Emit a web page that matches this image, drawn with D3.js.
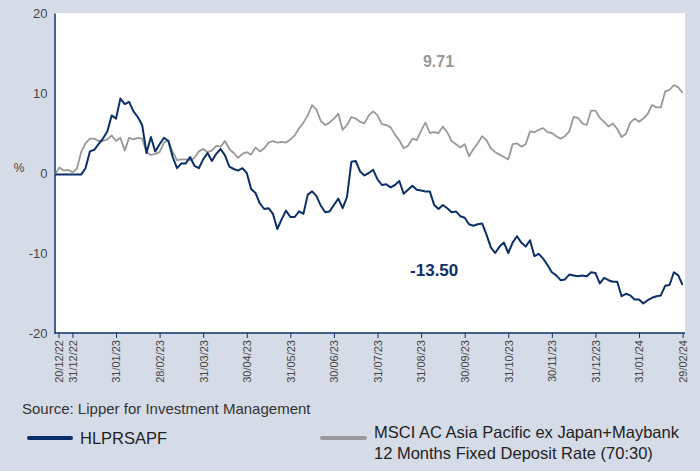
<!DOCTYPE html>
<html>
<head>
<meta charset="utf-8">
<script src="https://cdn.jsdelivr.net/npm/d3@7"></script>
<style>
  body { margin: 0; background: #d6dce7; }
  text { font-family: "Liberation Sans Narrow", "Arial Narrow", "Liberation Sans", sans-serif; }
</style>
</head>
<body>
<svg id="chart" width="700" height="471"></svg>
<script>
// month-end ticks (position = index in the series, 10 points per month)
var tickLabels = ["20/12/22", "31/12/22", "31/01/23", "28/02/23", "31/03/23", "30/04/23", "31/05/23",
                  "30/06/23", "31/07/23", "31/08/23", "30/09/23", "31/10/23", "30/11/23", "31/12/23",
                  "31/01/24", "29/02/24"];
var tickIndex = [0.8, 4, 14, 24, 34, 44, 54, 64, 74, 84, 94, 104, 114, 124, 134, 144];

var yTicks = [20, 10, 0, -10, -20];

// cumulative return, %
var fund = [
  -0.2, -0.2, -0.2, -0.2, -0.2, -0.2, -0.2, 0.6, 2.7, 2.9,
  3.6, 4.3, 5.2, 7.2, 6.8, 9.3, 8.6, 8.9, 7.7, 7.0,
  6.0, 2.5, 4.5, 2.7, 3.6, 4.4, 4.0, 2.0, 0.6, 1.2,
  1.2, 2.0, 0.9, 0.6, 1.7, 2.5, 1.5, 2.4, 3.0, 2.2,
  0.8, 0.5, 0.3, 0.6, 0.0, -2.0, -2.5, -3.8, -4.5, -4.4,
  -5.1, -7.0, -5.8, -4.7, -5.5, -5.5, -4.8, -5.1, -2.7, -2.3,
  -2.9, -4.1, -4.9, -4.8, -4.0, -3.2, -4.4, -3.0, 1.4, 1.5,
  0.2, -0.3, 0.0, 0.4, -0.8, -1.5, -1.4, -1.8, -1.5, -1.0,
  -2.6, -2.1, -1.6, -2.1, -2.2, -2.3, -2.3, -4.0, -4.5, -4.0,
  -4.4, -4.9, -4.8, -5.4, -5.6, -6.4, -6.6, -6.4, -6.3, -7.7,
  -9.3, -10.0, -9.2, -8.7, -10.0, -8.7, -7.9, -8.7, -9.2, -8.4,
  -10.4, -10.1, -10.7, -11.5, -12.4, -12.8, -13.4, -13.3, -12.7, -12.8,
  -12.9, -12.8, -12.9, -12.4, -12.5, -13.8, -13.1, -13.4, -13.6, -13.6,
  -15.4, -15.1, -15.3, -15.8, -15.8, -16.3, -15.9, -15.6, -15.4, -15.3,
  -14.1, -14.0, -12.4, -12.8, -14.0
];
var bench = [
  -0.2, 0.7, 0.3, 0.4, 0.1, 0.5, 2.6, 3.7, 4.3, 4.3,
  4.0, 4.0, 4.2, 4.7, 4.0, 4.4, 2.8, 4.4, 4.2, 4.4,
  4.3, 2.6, 2.25, 2.4, 2.6, 3.8, 4.1, 2.6, 1.6, 1.7,
  1.7, 1.6, 1.9, 2.7, 3.0, 2.6, 2.8, 3.4, 3.3, 4.0,
  3.0, 2.5, 1.9, 2.4, 2.6, 2.3, 3.2, 2.7, 3.1, 3.8,
  4.0, 3.8, 3.9, 3.8, 4.2, 4.7, 5.6, 6.3, 7.2, 8.5,
  7.9, 6.5, 6.0, 6.3, 6.8, 7.4, 5.4, 6.0, 7.0, 6.8,
  6.4, 6.2, 7.2, 7.7, 7.2, 6.1, 6.0, 5.7, 4.8, 4.1,
  3.1, 3.4, 4.3, 4.1, 5.3, 6.3, 5.0, 5.1, 5.0, 5.8,
  5.1, 4.0, 3.6, 3.2, 3.6, 2.1, 3.0, 3.7, 4.6, 4.1,
  3.1, 2.6, 2.3, 2.0, 1.7, 3.6, 3.7, 3.3, 3.6, 5.2,
  5.1, 5.4, 5.6, 5.1, 5.0, 4.6, 4.3, 4.6, 5.2, 7.0,
  6.9, 6.2, 6.0, 7.8, 7.8, 6.9, 6.4, 5.8, 6.2, 5.5,
  4.5, 4.9, 6.3, 6.8, 6.4, 6.8, 7.4, 8.5, 8.2, 8.2,
  10.2, 10.4, 11.0, 10.7, 10.0
];

var fundName = "HLPRSAPF";
var benchName = ["MSCI AC Asia Pacific ex Japan+Maybank", "12 Months Fixed Deposit Rate (70:30)"];
var fundLast = "-13.50", benchLast = "9.71";

var navy = "#0b2f68", grey = "#999999";

var svg = d3.select("#chart");
var plot = {left: 54.5, right: 685, top: 13, bottom: 333};

svg.append("rect")
    .attr("width", 700).attr("height", 471)
    .attr("fill", "#d6dce7");

svg.append("rect")
    .attr("x", plot.left).attr("y", plot.top)
    .attr("width", plot.right - plot.left)
    .attr("height", plot.bottom - plot.top)
    .attr("fill", "#fff");

var x = d3.scaleLinear()
    .domain([0, fund.length - 1])
    .range([55, 682.6]);

var y = d3.scaleLinear()
    .domain([-20, 20])
    .range([plot.bottom, plot.top]);

// x axis
var xAxis = d3.axisBottom(x)
    .tickValues(tickIndex)
    .tickFormat(function(d, i) { return tickLabels[i]; })
    .tickSize(5)
    .tickSizeOuter(0);

var gx = svg.append("g")
    .attr("transform", "translate(0," + plot.bottom + ")")
    .call(xAxis);
gx.select(".domain").attr("stroke", navy).attr("stroke-width", 1.5)
    .attr("d", "M" + plot.left + ",0H" + plot.right);
gx.selectAll(".tick line").attr("stroke", navy);
gx.selectAll(".tick text")
    .attr("transform", "rotate(-90)")
    .attr("x", -7).attr("y", 0).attr("dy", "0.35em")
    .style("text-anchor", "end")
    .style("font-size", "11px")
    .attr("fill", "#444");

// y axis (plain hyphen for negatives, as in the original)
var yAxis = d3.axisLeft(y)
    .tickValues(yTicks)
    .tickFormat(function(d) { return String(d); })
    .tickSize(0)
    .tickPadding(7);

var gy = svg.append("g")
    .attr("transform", "translate(" + plot.left + ",0)")
    .call(yAxis);
gy.select(".domain").attr("stroke", navy).attr("stroke-width", 1.5);
gy.selectAll(".tick text")
    .style("font-size", "13px")
    .attr("fill", "#444");

svg.append("text")
    .attr("x", 19).attr("y", 168)
    .attr("dy", "0.35em")
    .style("text-anchor", "middle")
    .style("font-size", "12px")
    .attr("fill", "#444")
    .text("%");

var line = d3.line()
    .x(function(d, i) { return x(i); })
    .y(function(d) { return y(d); });

svg.append("path")
    .datum(bench)
    .attr("fill", "none")
    .attr("stroke", grey)
    .attr("stroke-width", 1.8)
    .attr("stroke-linejoin", "round")
    .attr("d", line);

svg.append("path")
    .datum(fund)
    .attr("fill", "none")
    .attr("stroke", navy)
    .attr("stroke-width", 2)
    .attr("stroke-linejoin", "round")
    .attr("d", line);

// end-value labels
svg.append("text")
    .attr("x", x(88)).attr("y", y(13.9))
    .attr("dy", "0.35em")
    .style("text-anchor", "middle")
    .style("font-family", "'Liberation Sans', sans-serif")
    .style("font-weight", "bold")
    .style("font-size", "16px")
    .attr("fill", grey)
    .text(benchLast);

svg.append("text")
    .attr("x", x(87)).attr("y", y(-12.1))
    .attr("dy", "0.35em")
    .style("text-anchor", "middle")
    .style("font-family", "'Liberation Sans', sans-serif")
    .style("font-weight", "bold")
    .style("font-size", "17px")
    .attr("fill", navy)
    .text(fundLast);

// source
svg.append("text")
    .attr("x", 22).attr("y", 414)
    .style("font-size", "15px")
    .attr("fill", "#333")
    .text("Source: Lipper for Investment Management");

// legend
var legend = svg.append("g");
legend.append("line")
    .attr("x1", 29).attr("x2", 71).attr("y1", 438).attr("y2", 438)
    .attr("stroke", navy).attr("stroke-width", 4).attr("stroke-linecap", "round");
legend.append("text")
    .attr("x", 80).attr("y", 438).attr("dy", "0.35em")
    .style("font-size", "16.5px").attr("fill", "#222")
    .text(fundName);
legend.append("line")
    .attr("x1", 322).attr("x2", 365).attr("y1", 438).attr("y2", 438)
    .attr("stroke", grey).attr("stroke-width", 4).attr("stroke-linecap", "round");
legend.append("text")
    .attr("x", 374).attr("y", 438).attr("dy", "0.35em")
    .style("font-size", "16.5px").attr("fill", "#222")
    .selectAll("tspan")
    .data(benchName)
  .enter().append("tspan")
    .attr("x", 374)
    .attr("dy", function(d, i) { return i ? "1.3em" : 0; })
    .text(function(d) { return d; });
</script>
</body>
</html>
